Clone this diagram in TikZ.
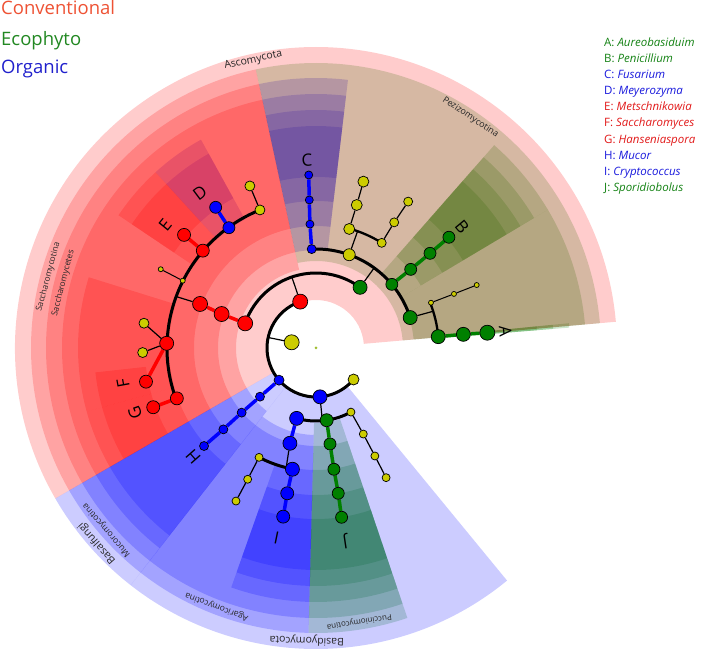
\documentclass[tikz,border=0pt]{standalone}
\usepackage{fontspec}
\setmainfont{Open Sans}
\pgfdeclarelayer{sectlayer}
\pgfdeclarelayer{edgelayer}
\pgfsetlayers{sectlayer,edgelayer,main}
\definecolor{cR}{RGB}{255,0,0}
\definecolor{cG}{RGB}{0,128,0}
\definecolor{cB}{RGB}{0,0,255}
\definecolor{cY}{RGB}{204,204,0}
\definecolor{cRoot}{RGB}{160,190,50}
\definecolor{legR}{RGB}{238,82,52}
\definecolor{legG}{RGB}{34,136,34}
\definecolor{legB}{RGB}{32,32,204}
\definecolor{txR}{RGB}{225,25,25}
\definecolor{txG}{RGB}{20,130,20}
\definecolor{txB}{RGB}{25,25,220}
\newcommand\cladesector[5]{\fill[#1,fill opacity=0.2] (#2:#4pt) arc[start angle=#2,end angle=#3,radius=#4pt] -- (#3:#5pt) arc[start angle=#3,end angle=#2,radius=#5pt] -- cycle;}
\tikzset{
  nd/.style={circle,draw=black,line width=0.7pt,inner sep=0pt},
  bkthick/.style={draw=black,line width=3pt},
  bkmid/.style={draw=black,line width=2.3pt},
  bkthin/.style={draw=black,line width=1.2pt},
  lnR/.style={draw=cR,line width=3.5pt},
  lnG/.style={draw=cG,line width=3.5pt},
  lnB/.style={draw=cB,line width=3.5pt},
  ringlab/.style={inner sep=0pt,text=black!85},
  letlab/.style={inner sep=0pt,text=black,font=\fontsize{17}{18}\selectfont},
}
\begin{document}
\begin{tikzpicture}[x=1pt,y=1pt]
\useasboundingbox (-316pt,-302pt) rectangle (393pt,348pt);
% ---------- sectors (deepest level first, phylum last) ----------
\begin{pgfonlayer}{sectlayer}
% genus level
\cladesector{cB}{118.9}{132.4}{171}{222}
\cladesector{cR}{132.4}{146.1}{171}{222}
\cladesector{cR}{186.3}{195.5}{171}{222}
\cladesector{cR}{195.5}{210}{171}{222}
\cladesector{cG}{4.6}{5.6}{171}{222}
\cladesector{cG}{30.8}{48.7}{171}{222}
\cladesector{cB}{83.2}{102.2}{171}{222}
\cladesector{cB}{250.5}{268.5}{171}{222}
\cladesector{cG}{268.5}{288.7}{171}{222}
% family level
\cladesector{cB}{118.9}{132.4}{147}{238}
\cladesector{cR}{132.4}{146.1}{147}{238}
\cladesector{cR}{162.7}{195.5}{147}{238}
\cladesector{cR}{195.5}{210}{147}{238}
\cladesector{cG}{4.6}{5.6}{147}{238}
\cladesector{cG}{30.8}{48.7}{147}{238}
\cladesector{cB}{83.2}{102.2}{147}{238}
\cladesector{cB}{210}{232}{147}{238}
\cladesector{cB}{250.5}{268.5}{147}{238}
\cladesector{cG}{268.5}{288.7}{147}{238}
% order level
\cladesector{cR}{102.2}{210}{122}{254}
\cladesector{cG}{4.6}{5.6}{122}{254}
\cladesector{cG}{30.8}{48.7}{122}{254}
\cladesector{cB}{83.2}{102.2}{122}{254}
\cladesector{cB}{210}{232}{122}{254}
\cladesector{cB}{250.5}{268.5}{122}{254}
\cladesector{cG}{268.5}{288.7}{122}{254}
% class level
\cladesector{cR}{102.2}{210}{98}{270}
\cladesector{cG}{5}{30.8}{98}{270}
\cladesector{cG}{30.8}{48.7}{98}{270}
\cladesector{cB}{83.2}{102.2}{98}{270}
\cladesector{cB}{210}{232}{98}{270}
\cladesector{cB}{232}{268.5}{98}{270}
\cladesector{cG}{268.5}{288.7}{98}{270}
% subphylum level
\cladesector{cR}{102.2}{210}{80}{285}
\cladesector{cG}{5}{102.2}{87}{285}
\cladesector{cB}{210}{232}{80}{285}
\cladesector{cB}{232}{268.5}{87}{285}
\cladesector{cG}{268.5}{288.7}{75}{285}
% phylum level
\cladesector{cR}{5}{210}{48}{301}
\cladesector{cB}{210}{232}{48}{301}
\cladesector{cB}{232}{309.4}{48}{301}
\end{pgfonlayer}
% ---------- nodes ----------
\node[circle,fill=cRoot,inner sep=0pt,minimum size=3pt] (root) at (0pt,0pt) {};
\node[nd,fill=cY,minimum size=15pt] (king) at (166.8:25pt) {};
% phyla
\node[nd,fill=cR,minimum size=15pt] (asc) at (108.8:49pt) {};
\node[nd,fill=cB,minimum size=10pt] (basal) at (221:49pt) {};
\node[nd,fill=cB,minimum size=14pt] (basid) at (274.7:49pt) {};
\node[nd,fill=cY,minimum size=11pt] (yphy) at (320:49pt) {};
% subphyla
\node[nd,fill=cG,minimum size=14pt] (pezi) at (54:75pt) {};
\node[nd,fill=cR,minimum size=15pt] (s3) at (160.8:75pt) {};
\node[nd,fill=cB,minimum size=14pt] (agar) at (254.6:73pt) {};
\node[nd,fill=cG,minimum size=13pt] (pucc) at (278.4:73pt) {};
\node[nd,fill=cY,minimum size=8pt] (by3) at (298.6:73pt) {};
\node[nd,fill=cB,minimum size=9pt] (h3) at (221:74.2pt) {};
% classes
\node[nd,fill=cG,minimum size=14pt] (acls) at (17.9:99pt) {};
\node[nd,fill=cG,minimum size=12pt] (b4) at (40:99pt) {};
\node[nd,fill=cY,minimum size=12pt] (ycls) at (70.4:99pt) {};
\node[nd,fill=cB,minimum size=9pt] (c4) at (92.5:99pt) {};
\node[nd,fill=cR,minimum size=15pt] (s4) at (160.2:100.3pt) {};
\node[nd,fill=cB,minimum size=14pt] (ag4) at (254.7:98.8pt) {};
\node[nd,fill=cG,minimum size=12pt] (j4) at (278.3:97pt) {};
\node[nd,fill=cY,minimum size=8pt] (by4) at (298.8:98.2pt) {};
\node[nd,fill=cB,minimum size=9pt] (h4) at (221:98.5pt) {};
% orders
\node[nd,fill=cG,minimum size=14pt] (a5) at (5.3:122.8pt) {};
\node[nd,fill=cY,minimum size=5pt] (ya5) at (21.5:123.6pt) {};
\node[nd,fill=cY,minimum size=11pt] (yb5) at (74.4:123.6pt) {};
\node[nd,fill=cY,minimum size=9pt] (yc5) at (58:124pt) {};
\node[nd,fill=cB,minimum size=8pt] (c5) at (92.8:124pt) {};
\node[nd,fill=cG,minimum size=12pt] (b5) at (39.7:123.1pt) {};
\node[nd,fill=cR,minimum size=15pt] (s5) at (159.2:124pt) {};
\node[nd,fill=cY,minimum size=8pt] (ay5) at (242.5:123.3pt) {};
\node[nd,fill=cB,minimum size=14pt] (ag5) at (259:123.5pt) {};
\node[nd,fill=cG,minimum size=12pt] (j5) at (278.4:122.6pt) {};
\node[nd,fill=cY,minimum size=8pt] (by5) at (298.6:123pt) {};
\node[nd,fill=cB,minimum size=9pt] (h5) at (221.3:123.3pt) {};
% families
\node[nd,fill=cG,minimum size=14pt] (a6) at (5.3:148pt) {};
\node[nd,fill=cY,minimum size=5pt] (ya6) at (21.4:148.2pt) {};
\node[nd,fill=cY,minimum size=11pt] (yb6) at (74.1:148.7pt) {};
\node[nd,fill=cY,minimum size=9pt] (yc6) at (58.1:148pt) {};
\node[nd,fill=cB,minimum size=8pt] (c6) at (92.6:148.2pt) {};
\node[nd,fill=cG,minimum size=12pt] (b6) at (39.7:148.2pt) {};
\node[nd,fill=cY,minimum size=10pt] (yd6) at (112.1:149pt) {};
\node[nd,fill=cB,minimum size=12pt] (dpar) at (125.9:148.5pt) {};
\node[nd,fill=cR,minimum size=13pt] (epar) at (139.3:149.3pt) {};
\node[nd,fill=cY,minimum size=5pt] (ye6) at (153.2:149.3pt) {};
\node[nd,fill=cR,minimum size=14pt] (fpar) at (178.2:149.4pt) {};
\node[nd,fill=cR,minimum size=13pt] (gpar) at (199.9:148pt) {};
\node[nd,fill=cY,minimum size=8pt] (ay6) at (242.5:148pt) {};
\node[nd,fill=cB,minimum size=13pt] (ag6) at (258.8:148.1pt) {};
\node[nd,fill=cG,minimum size=12pt] (j6) at (278.7:147pt) {};
\node[nd,fill=cY,minimum size=8pt] (by6) at (298.4:147.4pt) {};
\node[nd,fill=cB,minimum size=9pt] (h6) at (221.2:148.8pt) {};
% genera
\node[nd,fill=cG,minimum size=15pt] (a7) at (5.1:172pt) {};
\node[nd,fill=cY,minimum size=5pt] (ya7) at (21.4:172.6pt) {};
\node[nd,fill=cY,minimum size=11pt] (yb7) at (74.1:173pt) {};
\node[nd,fill=cY,minimum size=9pt] (yc7) at (57.8:173pt) {};
\node[nd,fill=cB,minimum size=8pt] (c7) at (92.4:173.2pt) {};
\node[nd,fill=cG,minimum size=12pt] (b7) at (39.8:173pt) {};
\node[nd,fill=cY,minimum size=10pt] (yd7) at (112.2:175pt) {};
\node[nd,fill=cB,minimum size=12pt] (d7) at (125.5:172.8pt) {};
\node[nd,fill=cR,minimum size=13pt] (e7) at (139.4:173.8pt) {};
\node[nd,fill=cY,minimum size=5pt] (ye7) at (153.1:174.1pt) {};
\node[nd,fill=cY,minimum size=10pt] (yf1) at (171.8:173.8pt) {};
\node[nd,fill=cY,minimum size=10pt] (yf2) at (181.5:173.4pt) {};
\node[nd,fill=cR,minimum size=13pt] (f7) at (191.2:173.3pt) {};
\node[nd,fill=cR,minimum size=13pt] (g7) at (200:173.2pt) {};
\node[nd,fill=cY,minimum size=8pt] (ay7) at (242.4:172.7pt) {};
\node[nd,fill=cB,minimum size=13pt] (ag7) at (259:171.8pt) {};
\node[nd,fill=cG,minimum size=12pt] (j7) at (278.6:171.2pt) {};
% free ends of radial stems
\coordinate (kingc) at (167.6:49pt);
\coordinate (ascc) at (108.8:75pt);
\coordinate (pezic) at (54:99pt);
\coordinate (aclsc) at (17.4:123pt);
\coordinate (yclsc) at (70.4:124pt);
\coordinate (s5c) at (159.8:149pt);
\coordinate (basidc) at (275:73pt);
\coordinate (ag4c) at (256:123pt);
% ---------- connectors ----------
\begin{pgfonlayer}{edgelayer}
\draw[bkthick] (asc.center) arc[start angle=108.8,end angle=320,radius=49pt];
\draw[bkthick] (pezi.center) arc[start angle=54,end angle=160.8,radius=75pt];
\draw[bkthick] (acls.center) arc[start angle=17.9,end angle=92.5,radius=99pt];
\draw[bkmid] (a5.center) arc[start angle=5.3,end angle=21.5,radius=122.8pt];
\draw[bkmid] (yc5.center) arc[start angle=58,end angle=74.4,radius=124pt];
\draw[bkthick] (yd6.center) arc[start angle=112.1,end angle=199.9,radius=149pt];
\draw[bkthick] (agar.center) arc[start angle=254.6,end angle=298.6,radius=73pt];
\draw[bkthick] (ay5.center) arc[start angle=242.5,end angle=259,radius=123.3pt];
\draw[bkthin] (king) -- (kingc);
\draw[bkthin] (asc) -- (ascc);
\draw[bkthin] (pezi) -- (pezic);
\draw[bkthin] (acls) -- (aclsc);
\draw[bkthin] (ycls) -- (yclsc);
\draw[bkthin] (s5) -- (s5c);
\draw[bkthin] (basid) -- (basidc);
\draw[bkthin] (ag4) -- (ag4c);
\draw[bkthin,line width=1pt] (ya5) -- (ya6) -- (ya7);
\draw[bkthin] (yb5) -- (yb6) -- (yb7);
\draw[bkthin] (yc5) -- (yc6) -- (yc7);
\draw[bkthin] (yd6) -- (yd7);
\draw[bkthin,line width=1pt] (ye6) -- (ye7);
\draw[bkthin] (fpar) -- (yf1);
\draw[bkthin] (fpar) -- (yf2);
\draw[bkthin] (ay5) -- (ay6) -- (ay7);
\draw[bkthin] (by3) -- (by4) -- (by5) -- (by6);
\draw[lnB] (c4) -- (c5) -- (c6) -- (c7);
\draw[lnG] (b4) -- (b5) -- (b6) -- (b7);
\draw[lnG] (a5) -- (a6) -- (a7);
\draw[lnR] (s3) -- (s4) -- (s5);
\draw[lnB] (dpar) -- (d7);
\draw[lnR] (epar) -- (e7);
\draw[lnR] (fpar) -- (f7);
\draw[lnR] (gpar) -- (g7);
\draw[lnB] (basal) -- (h3) -- (h4) -- (h5) -- (h6);
\draw[lnB] (agar) -- (ag4);
\draw[lnB] (ag5) -- (ag6) -- (ag7);
\draw[lnG] (pucc) -- (j4) -- (j5) -- (j6) -- (j7);
\end{pgfonlayer}
% ---------- clade letters ----------
\node[letlab,rotate=2.8] (lC) at (92.8:188pt) {C};
\node[letlab,rotate=-50.2] (lB) at (39.8:190pt) {B};
\node[letlab,rotate=-85.1] (lA) at (4.9:190pt) {A};
\node[letlab,rotate=36.9] (lD) at (126.9:193.4pt) {D};
\node[letlab,rotate=50.8] (lE) at (140.8:194.8pt) {E};
\node[letlab,rotate=100.4] (lF) at (190.4:196pt) {F};
\node[letlab,rotate=109.8] (lG) at (199.8:192.4pt) {G};
\node[letlab,rotate=131.5] (lH) at (221.5:164pt) {H};
\node[letlab,rotate=168.3] (lI) at (258.3:194.3pt) {I};
\node[letlab,rotate=188.5] (lJ) at (278.5:195.8pt) {J};
% ---------- ring labels ----------
\node[ringlab,font=\fontsize{10.5}{12}\selectfont,rotate=12.3] (tAsco) at (102.3:294.5pt) {Ascomycota};
\node[ringlab,font=\fontsize{9}{10}\selectfont,rotate=-33.8] (tPezi) at (56.2:277.5pt) {Pezizomycotina};
\node[ringlab,font=\fontsize{8.4}{10}\selectfont,rotate=75.1] (tSaccT) at (165.1:277pt) {Saccharomycotina};
\node[ringlab,font=\fontsize{8.4}{10}\selectfont,rotate=75.6] (tSaccE) at (165.6:261pt) {Saccharomycetes};
\node[ringlab,font=\fontsize{10.5}{12}\selectfont,rotate=131.7] (tBasal) at (221.7:293.5pt) {Basalfungi};
\node[ringlab,font=\fontsize{8.6}{10}\selectfont,rotate=131] (tMuco) at (221:277.4pt) {Mucoromycotina};
\node[ringlab,font=\fontsize{8.6}{10}\selectfont,rotate=159] (tAgar) at (249:277pt) {Agaricomycotina};
\node[ringlab,font=\fontsize{10.5}{12}\selectfont,rotate=178.2] (tBasid) at (268.2:292.5pt) {Basidyomycota};
\node[ringlab,font=\fontsize{8}{10}\selectfont,rotate=189] (tPucc) at (279:277pt) {Pucciniomycotina};
% ---------- legends ----------
\node[anchor=base west,inner sep=0pt,text=legR,font=\fontsize{18.5}{20}\selectfont] (legConv) at (-315pt,333pt) {Conventional};
\node[anchor=base west,inner sep=0pt,text=legG,font=\fontsize{18.5}{20}\selectfont] (legEco) at (-315pt,302.3pt) {Ecophyto};
\node[anchor=base west,inner sep=0pt,text=legB,font=\fontsize{18.5}{20}\selectfont] (legOrg) at (-315pt,274pt) {Organic};
\begin{scope}[every node/.style={anchor=base west,inner sep=0pt,font=\fontsize{11.5}{13}\selectfont}]
\node[text=txG] (kA) at (288pt,301.5pt) {A: \textit{Aureobasiduim}};
\node[text=txG] (kB) at (288pt,285.4pt) {B: \textit{Penicillium}};
\node[text=txB] (kC) at (288pt,269.3pt) {C: \textit{Fusarium}};
\node[text=txB] (kD) at (288pt,253.2pt) {D: \textit{Meyerozyma}};
\node[text=txR] (kE) at (288pt,237.1pt) {E: \textit{Metschnikowia}};
\node[text=txR] (kF) at (288pt,221pt) {F: \textit{Saccharomyces}};
\node[text=txR] (kG) at (288pt,204.9pt) {G: \textit{Hanseniaspora}};
\node[text=txB] (kH) at (288pt,188.8pt) {H: \textit{Mucor}};
\node[text=txB] (kI) at (288pt,172.7pt) {I: \textit{Cryptococcus}};
\node[text=txG] (kJ) at (288pt,156.6pt) {J: \textit{Sporidiobolus}};
\end{scope}
\end{tikzpicture}
\end{document}
